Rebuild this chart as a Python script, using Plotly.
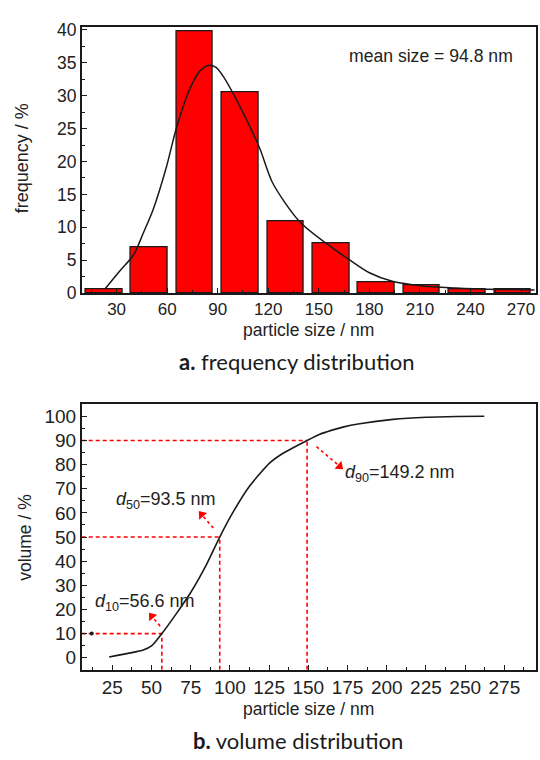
import math
import plotly.graph_objects as go

# ---------------- data ----------------
# (a) frequency distribution
bin_centers = [22.5, 49.4, 76.4, 103.4, 130.4, 157.3, 184.2, 211.1, 238.1, 265.0]
frequency = [0.65, 7.0, 39.8, 30.5, 10.9, 7.6, 1.7, 1.2, 0.65, 0.65]
fit_x = [23, 32, 40, 45.8, 51.7, 59.6, 65.5, 73.4, 79.3, 84.2, 89, 93.1, 102.9, 114.8,
         122.7, 138.5, 154.2, 168, 180, 193.6, 211.4, 231.1, 250, 266.6, 278]
fit_y = [0.6, 3.4, 5.8, 9.1, 12.7, 19.2, 25.1, 31.0, 33.7, 34.6, 34.3, 33.0, 28.5, 22.1,
         16.7, 10.9, 7.6, 5.1, 3.1, 1.8, 1.1, 0.8, 0.6, 0.55, 0.5]
mean_size = 94.8
freq_xticks = [30, 60, 90, 120, 150, 180, 210, 240, 270]

# (b) volume distribution (cumulative)
vol_x = [23, 35, 44.8, 50.2, 56.6, 66.1, 74.6, 85.2, 93.5, 102.1, 112.7, 125.4, 133.9,
         149.2, 157.3, 161.5, 172, 182.7, 203.9, 225.1, 245, 262.2]
vol_y = [0.3, 1.8, 3.2, 5.0, 10.0, 18.5, 26.6, 38.8, 50.0, 60.4, 71.2, 80.7, 84.7,
         90.0, 92.6, 93.5, 95.5, 96.9, 98.7, 99.6, 99.9, 100.0]
d_names = ["10", "50", "90"]
d_pct = [10, 50, 90]
d_val = [56.6, 93.5, 149.2]
vol_xticks = [25, 50, 75, 100, 125, 150, 175, 200, 225, 250, 275]

# ---------------- styling ----------------
ARIAL = "Liberation Sans, Arial, sans-serif"
CAP = "Lato, Open Sans, sans-serif"
INK = "#1a1a1a"
TXT = "#222222"
RED = "#ff0000"

X1 = [9.3, 279]
Y1 = [0, 40.4]
X2 = [5.5, 295.3]
Y2 = [-5, 105]

fig = go.Figure()

fig.add_trace(go.Bar(
    x=bin_centers, y=frequency, width=21.7,
    marker=dict(color=RED, line=dict(color=INK, width=1.3)),
    xaxis="x", yaxis="y", showlegend=False))
fig.add_trace(go.Scatter(
    x=fit_x, y=fit_y, mode="lines", line=dict(color=INK, width=1.5, shape="spline", smoothing=0.8),
    xaxis="x", yaxis="y", showlegend=False))

fig.add_trace(go.Scatter(
    x=vol_x, y=vol_y, mode="lines", line=dict(color=INK, width=1.6, shape="spline", smoothing=0.6),
    xaxis="x2", yaxis="y2", showlegend=False))
fig.add_trace(go.Scatter(
    x=[11.9], y=[10], mode="markers", marker=dict(color=INK, size=4),
    xaxis="x2", yaxis="y2", showlegend=False))

axis_common = dict(showgrid=False, zeroline=False, showline=True, mirror=True,
                   linecolor=INK, linewidth=1.6, ticks="inside", ticklen=5, tickwidth=1.3,
                   tickcolor=INK)

fig.update_layout(
    width=540, height=760,
    margin=dict(l=0, r=0, t=0, b=0),
    paper_bgcolor="white", plot_bgcolor="white",
    bargap=0,
    xaxis=dict(domain=[0.1513, 0.9930], range=X1, anchor="y",
               tickvals=freq_xticks, tickfont=dict(family=ARIAL, size=17, color=TXT),
               minor=dict(dtick=15, tick0=0, ticks="inside", ticklen=3, tickcolor=INK),
               **axis_common),
    yaxis=dict(domain=[0.6148, 0.9728], range=Y1, anchor="x",
               dtick=5, tick0=0, tickfont=dict(family=ARIAL, size=17.5, color=TXT),
               minor=dict(dtick=2.5, tick0=0, ticks="inside", ticklen=3, tickcolor=INK),
               **axis_common),
    xaxis2=dict(domain=[0.1513, 0.9930], range=X2, anchor="y2",
                tickvals=vol_xticks, tickfont=dict(family=ARIAL, size=19, color=TXT),
                minor=dict(dtick=12.5, tick0=0, ticks="inside", ticklen=3, tickcolor=INK),
                **axis_common),
    yaxis2=dict(domain=[0.1079, 0.4654], range=Y2, anchor="x2",
                dtick=10, tick0=0, tickfont=dict(family=ARIAL, size=19, color=TXT),
                minor=dict(dtick=5, tick0=0, ticks="inside", ticklen=3, tickcolor=INK),
                **axis_common),
)

# red dotted guide lines
shapes = []
for p, v in zip(d_pct, d_val):
    shapes.append(dict(type="line", xref="x2", yref="y2", x0=X2[0], x1=v, y0=p, y1=p,
                       line=dict(color=RED, width=1.6, dash="4px,3px"), layer="below"))
    shapes.append(dict(type="line", xref="x2", yref="y2", x0=v, x1=v, y0=Y2[0], y1=p,
                       line=dict(color=RED, width=1.6, dash="4px,3px"), layer="below"))

# arrows: dotted shaft (tail -> head) + triangular head marker
arrow_tail = [(55.5, 13.1), (89.4, 53.7), (155.2, 87.4)]
arrow_head = [(50.2, 17.2), (82.0, 59.3), (170.0, 79.3)]
px_per_x = 1.568
px_per_y = 2.467
head_x, head_y, head_ang = [], [], []
for (tx, ty), (hx, hy) in zip(arrow_tail, arrow_head):
    shapes.append(dict(type="line", xref="x2", yref="y2", x0=tx, y0=ty, x1=hx, y1=hy,
                       line=dict(color=RED, width=1.6, dash="3px,3px")))
    dxs = (hx - tx) * px_per_x          # screen dx (right +)
    dys = -(hy - ty) * px_per_y         # screen dy (down +)
    head_x.append(hx)
    head_y.append(hy)
    head_ang.append(math.degrees(math.atan2(dxs, -dys)))
fig.add_trace(go.Scatter(
    x=head_x, y=head_y, mode="markers",
    marker=dict(symbol="triangle-up", size=9, color=RED, angle=head_ang, line=dict(width=0)),
    xaxis="x2", yaxis="y2", showlegend=False, hoverinfo="skip"))

annotations = []
# d labels
label_pos = [(12.6, 23.0), (25.8, 65.0), (172.0, 76.5)]
for name, v, (lx, ly) in zip(d_names, d_val, label_pos):
    annotations.append(dict(x=lx, y=ly, xref="x2", yref="y2", xanchor="left", yanchor="middle",
                            showarrow=False,
                            text=f"<i>d</i><sub>{name}</sub>={v} nm",
                            font=dict(family=ARIAL, size=18, color=TXT)))

annotations += [
    dict(x=514.8 / 540, y=1 - 50 / 760, xref="paper", yref="paper", xanchor="right",
         yanchor="middle", showarrow=False, text=f"mean size = {mean_size} nm",
         font=dict(family=ARIAL, size=17.6, color=TXT)),
    # axis titles
    dict(x=21.7 / 540, y=1 - 155 / 760, xref="paper", yref="paper", xanchor="center",
         yanchor="middle", showarrow=False, text="frequency / %", textangle=-90,
         font=dict(family=ARIAL, size=18, color=TXT)),
    dict(x=308.5 / 540, y=1 - 330 / 760, xref="paper", yref="paper", xanchor="center",
         yanchor="middle", showarrow=False, text="particle size / nm",
         font=dict(family=ARIAL, size=17.5, color=TXT)),
    dict(x=25 / 540, y=1 - 543 / 760, xref="paper", yref="paper", xanchor="center",
         yanchor="middle", showarrow=False, text="volume / %", textangle=-90,
         font=dict(family=ARIAL, size=17.5, color=TXT)),
    dict(x=308.5 / 540, y=1 - 718 / 760, xref="paper", yref="paper", xanchor="center",
         yanchor="middle", showarrow=False, text="particle size / nm",
         font=dict(family=ARIAL, size=17.5, color=TXT)),
    # captions
    dict(x=296.5 / 540, y=1 - 363 / 760, xref="paper", yref="paper", xanchor="center",
         yanchor="middle", showarrow=False, text="<b>a.</b> frequency distribution",
         font=dict(family=CAP, size=22, color="#1a1a1a")),
    dict(x=297.5 / 540, y=1 - 750 / 760, xref="paper", yref="paper", xanchor="center",
         yanchor="middle", showarrow=False, text="<b>b.</b> volume distribution",
         font=dict(family=CAP, size=22, color="#1a1a1a")),
]

fig.update_layout(shapes=shapes, annotations=annotations)
fig.write_html("out.html", config={"displayModeBar": False},
               post_script="document.body.style.margin='0';document.body.style.overflow='hidden';")
